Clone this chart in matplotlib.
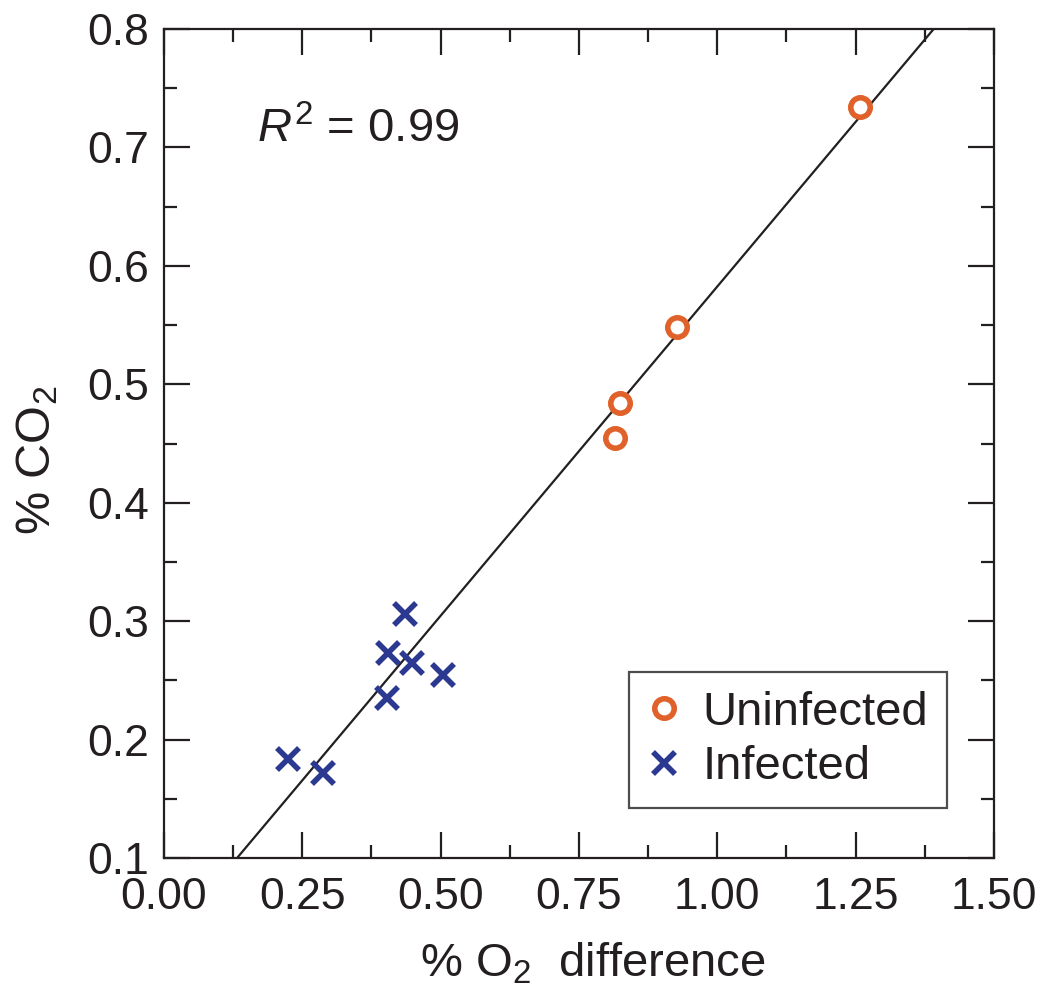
import numpy as np
import matplotlib
matplotlib.use('Agg')
import matplotlib.pyplot as plt
from matplotlib.ticker import MultipleLocator, FormatStrFormatter

plt.rcParams['font.family'] = ['Liberation Sans', 'DejaVu Sans']
plt.rcParams['mathtext.fontset'] = 'custom'
plt.rcParams['mathtext.rm'] = 'Liberation Sans'
plt.rcParams['mathtext.it'] = 'Liberation Sans:italic'

# data
uninf_o2 = [1.258, 0.927, 0.824, 0.815]
uninf_co2 = [0.734, 0.548, 0.484, 0.455]
inf_o2 = [0.436, 0.405, 0.448, 0.504, 0.403, 0.224, 0.287]
inf_co2 = [0.306, 0.273, 0.265, 0.2545, 0.235, 0.1836, 0.1718]

# regression line shown in the figure
fit_slope = 0.556
fit_intercept = 0.0266
r_squared = 0.99

orange = '#E0622A'
blue = '#2B3990'
ink = '#231f20'

fig = plt.figure(figsize=(10.42, 9.94), dpi=100)
ax = fig.add_axes([0.1574, 0.1368, 0.7965, 0.834])

xs = np.array([0.0, 1.5])
ax.plot(xs, fit_slope * xs + fit_intercept, color=ink, lw=1.6, zorder=1)

ax.plot(uninf_o2, uninf_co2, 'o', ms=14, mfc='white', mec=orange, mew=4,
        label='Uninfected', zorder=3)
ax.plot(inf_o2, inf_co2, 'x', ms=16.5, mec=blue, mew=4,
        label='Infected', zorder=3)

ax.set_xlim(0, 1.5)
ax.set_ylim(0.1, 0.8)
ax.xaxis.set_major_locator(MultipleLocator(0.25))
ax.xaxis.set_minor_locator(MultipleLocator(0.125))
ax.yaxis.set_major_locator(MultipleLocator(0.1))
ax.yaxis.set_minor_locator(MultipleLocator(0.05))
ax.xaxis.set_major_formatter(FormatStrFormatter('%.2f'))
ax.yaxis.set_major_formatter(FormatStrFormatter('%.1f'))

for s in ax.spines.values():
    s.set_linewidth(1.6)
    s.set_color(ink)
ax.tick_params(which='both', direction='in', top=True, right=True,
               width=1.6, color=ink, labelsize=32, labelcolor=ink)
ax.tick_params(which='major', length=18.5)
ax.tick_params(which='minor', length=9.5)
ax.tick_params(axis='x', which='major', pad=14)
ax.tick_params(axis='y', which='major', pad=11)

ax.set_xlabel('% O$_2$  difference', fontsize=34, color=ink)
ax.set_ylabel('% CO$_2$', fontsize=35, color=ink)
ax.xaxis.set_label_coords(0.517, -0.1)
ax.yaxis.set_label_coords(-0.125, 0.48)

ax.text(0.112, 0.878, '$R^2$ = %.2f' % r_squared, transform=ax.transAxes,
        fontsize=34, color=ink, va='center', ha='left')

leg = ax.legend(loc='lower right', bbox_to_anchor=(0.943, 0.06), fontsize=34,
                frameon=True, fancybox=False, edgecolor=ink,
                handlelength=0.7, handletextpad=0.45, borderpad=0.4,
                labelspacing=0.22, borderaxespad=0, numpoints=1)
leg.get_frame().set_linewidth(1.6)
for t in leg.get_texts():
    t.set_color(ink)

fig.savefig('out.png', dpi=100)
